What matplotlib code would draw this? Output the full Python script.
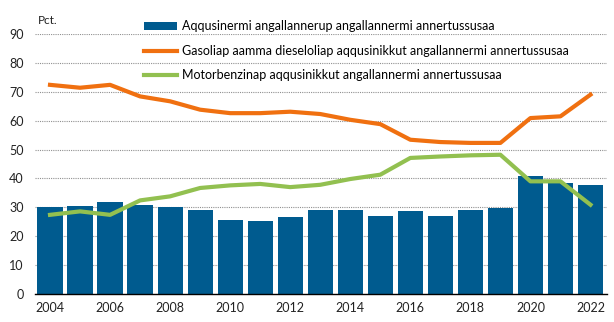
import matplotlib
matplotlib.use('Agg')
import matplotlib.pyplot as plt
import numpy as np

plt.rcParams['font.family'] = ['Lato', 'DejaVu Sans']

years = list(range(2004, 2023))
bars = [30.0, 30.5, 31.8, 30.9, 30.1, 29.2, 25.7, 25.4, 26.6, 29.2,
        29.2, 27.0, 28.8, 27.0, 29.2, 29.8, 41.0, 38.4, 37.9]
gasoil = [72.4, 71.4, 72.4, 68.4, 66.7, 63.8, 62.6, 62.6, 63.1, 62.3,
          60.3, 58.8, 53.4, 52.6, 52.3, 52.3, 60.9, 61.5, 69.0]
benzin = [27.4, 28.6, 27.4, 32.4, 33.8, 36.7, 37.6, 38.1, 37.0, 37.8,
          39.8, 41.3, 47.1, 47.6, 48.0, 48.2, 39.0, 39.0, 30.9]

labels = ['Aqqusinermi angallannerup angallannermi annertussusaa',
          'Gasoliap aamma dieseloliap aqqusinikkut angallannermi annertussusaa',
          'Motorbenzinap aqqusinikkut angallannermi annertussusaa']

fig = plt.figure(figsize=(6.14, 3.22), dpi=100)
ax = fig.add_axes([35/614, 28/322, 572/614, 260/322])

b = ax.bar(years, bars, width=0.84, color='#005b8f', label=labels[0], zorder=2)
l1, = ax.plot(years, gasoil, color='#f07010', lw=3, label=labels[1], zorder=3)
l2, = ax.plot(years, benzin, color='#92c050', lw=3, label=labels[2], zorder=3)

ax.set_xlim(2003.5, 2022.55)
ax.set_ylim(0, 90)
ax.set_yticks(range(0, 91, 10))
ax.set_xticks(range(2004, 2023, 2))
ax.yaxis.grid(True, color='#909090', linestyle=(0, (1, 1)), lw=0.8)
ax.set_axisbelow(True)
for s in ['top', 'right', 'left']:
    ax.spines[s].set_visible(False)
ax.spines['bottom'].set_color('black')
ax.spines['bottom'].set_linewidth(1.0)
ax.tick_params(axis='both', length=0, labelsize=9, colors='#222222')
ax.tick_params(axis='y', pad=8)
ax.tick_params(axis='x', pad=6)

ax.text(0.005, 1.03, 'Pct.', transform=ax.transAxes, fontsize=8.5,
        color='#222222', va='bottom')

ax.legend(handles=[b, l1, l2], loc='upper left', bbox_to_anchor=(0.19, 1.053),
          frameon=False, fontsize=9, handlelength=2.7, handleheight=0.6,
          labelspacing=1.0, handletextpad=0.35, borderaxespad=0,
          borderpad=0)

fig.savefig('out.png', dpi=100)
